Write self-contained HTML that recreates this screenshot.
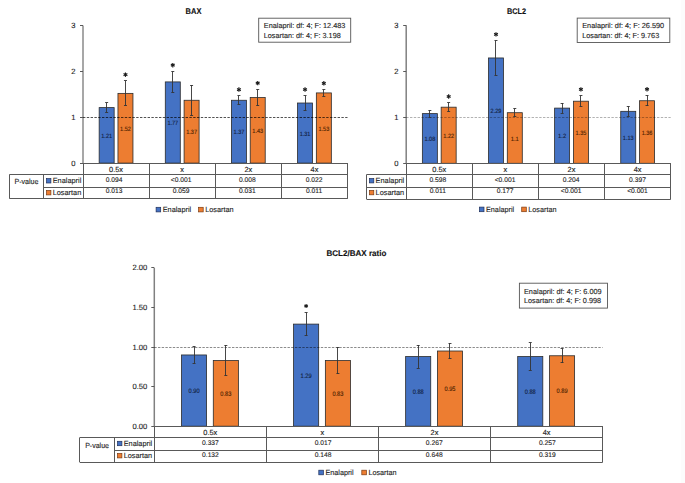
<!DOCTYPE html>
<html><head><meta charset="utf-8"><title>Charts</title>
<style>html,body{margin:0;padding:0;background:#fff;width:685px;height:483px;overflow:hidden}
svg{display:block} text{font-family:"Liberation Sans", sans-serif;text-rendering:geometricPrecision}</style></head>
<body>
<svg width="685" height="483" viewBox="0 0 685 483" font-family='"Liberation Sans", sans-serif'>
<rect x="0" y="0" width="685" height="483" fill="#fff"/>
<rect x="681" y="0" width="4" height="483" fill="#fcfcfc"/>
<text x="193.50" y="11.00" font-size="8.2" text-anchor="middle" fill="#111" stroke="#111" stroke-width="0.12" font-weight="bold" textLength="15.8" lengthAdjust="spacingAndGlyphs" dominant-baseline="central">BAX</text>
<line x1="83.00" y1="25.49" x2="83.00" y2="163.10" stroke="#8a8a8a" stroke-width="1.5"/>
<line x1="80.00" y1="163.50" x2="83.00" y2="163.50" stroke="#595959" stroke-width="1"/>
<text x="75.60" y="163.10" font-size="7.6" text-anchor="end" fill="#1e1e1e" stroke="#1e1e1e" stroke-width="0.12" dominant-baseline="central">0</text>
<line x1="80.00" y1="117.50" x2="83.00" y2="117.50" stroke="#595959" stroke-width="1"/>
<text x="75.60" y="117.23" font-size="7.6" text-anchor="end" fill="#1e1e1e" stroke="#1e1e1e" stroke-width="0.12" dominant-baseline="central">1</text>
<line x1="80.00" y1="71.50" x2="83.00" y2="71.50" stroke="#595959" stroke-width="1"/>
<text x="75.60" y="71.36" font-size="7.6" text-anchor="end" fill="#1e1e1e" stroke="#1e1e1e" stroke-width="0.12" dominant-baseline="central">2</text>
<line x1="80.00" y1="25.50" x2="83.00" y2="25.50" stroke="#595959" stroke-width="1"/>
<text x="75.60" y="25.49" font-size="7.6" text-anchor="end" fill="#1e1e1e" stroke="#1e1e1e" stroke-width="0.12" dominant-baseline="central">3</text>
<rect x="99.16" y="107.60" width="15.00" height="55.50" fill="#4472c4" stroke="#2b2b2b" stroke-width="0.8"/>
<rect x="117.96" y="93.38" width="15.00" height="69.72" fill="#ed7d31" stroke="#2b2b2b" stroke-width="0.8"/>
<rect x="165.29" y="81.91" width="15.00" height="81.19" fill="#4472c4" stroke="#2b2b2b" stroke-width="0.8"/>
<rect x="184.09" y="100.26" width="15.00" height="62.84" fill="#ed7d31" stroke="#2b2b2b" stroke-width="0.8"/>
<rect x="231.41" y="100.26" width="15.00" height="62.84" fill="#4472c4" stroke="#2b2b2b" stroke-width="0.8"/>
<rect x="250.21" y="97.51" width="15.00" height="65.59" fill="#ed7d31" stroke="#2b2b2b" stroke-width="0.8"/>
<rect x="297.54" y="103.01" width="15.00" height="60.09" fill="#4472c4" stroke="#2b2b2b" stroke-width="0.8"/>
<rect x="316.34" y="92.92" width="15.00" height="70.18" fill="#ed7d31" stroke="#2b2b2b" stroke-width="0.8"/>
<line x1="83.00" y1="117.50" x2="347.50" y2="117.50" stroke="#000" stroke-width="1" stroke-dasharray="2.4,1.4" stroke-opacity="0.68"/>
<text x="106.66" y="136.55" font-size="6.2" text-anchor="middle" fill="#101c3c" stroke="#101c3c" stroke-width="0.12" textLength="10.8" lengthAdjust="spacingAndGlyphs" dominant-baseline="central">1.21</text>
<line x1="106.50" y1="103.00" x2="106.50" y2="112.20" stroke="#333" stroke-width="0.9"/>
<line x1="105.16" y1="102.50" x2="108.16" y2="102.50" stroke="#333" stroke-width="0.9"/>
<line x1="105.16" y1="112.50" x2="108.16" y2="112.50" stroke="#333" stroke-width="0.9"/>
<text x="125.46" y="129.44" font-size="6.2" text-anchor="middle" fill="#4a1e00" stroke="#4a1e00" stroke-width="0.12" textLength="10.8" lengthAdjust="spacingAndGlyphs" dominant-baseline="central">1.52</text>
<line x1="125.50" y1="80.98" x2="125.50" y2="105.78" stroke="#333" stroke-width="0.9"/>
<line x1="123.96" y1="80.50" x2="126.96" y2="80.50" stroke="#333" stroke-width="0.9"/>
<line x1="123.96" y1="105.50" x2="126.96" y2="105.50" stroke="#333" stroke-width="0.9"/>
<line x1="125.46" y1="72.48" x2="125.46" y2="76.88" stroke="#1a1a1a" stroke-width="1.15"/>
<line x1="123.56" y1="73.58" x2="127.37" y2="75.78" stroke="#1a1a1a" stroke-width="1.15"/>
<line x1="127.37" y1="73.58" x2="123.56" y2="75.78" stroke="#1a1a1a" stroke-width="1.15"/>
<text x="172.79" y="123.71" font-size="6.2" text-anchor="middle" fill="#101c3c" stroke="#101c3c" stroke-width="0.12" textLength="10.8" lengthAdjust="spacingAndGlyphs" dominant-baseline="central">1.77</text>
<line x1="172.50" y1="71.51" x2="172.50" y2="92.31" stroke="#333" stroke-width="0.9"/>
<line x1="171.29" y1="71.50" x2="174.29" y2="71.50" stroke="#333" stroke-width="0.9"/>
<line x1="171.29" y1="92.50" x2="174.29" y2="92.50" stroke="#333" stroke-width="0.9"/>
<line x1="172.79" y1="63.01" x2="172.79" y2="67.41" stroke="#1a1a1a" stroke-width="1.15"/>
<line x1="170.88" y1="64.11" x2="174.69" y2="66.31" stroke="#1a1a1a" stroke-width="1.15"/>
<line x1="174.69" y1="64.11" x2="170.88" y2="66.31" stroke="#1a1a1a" stroke-width="1.15"/>
<text x="191.59" y="132.88" font-size="6.2" text-anchor="middle" fill="#4a1e00" stroke="#4a1e00" stroke-width="0.12" textLength="10.8" lengthAdjust="spacingAndGlyphs" dominant-baseline="central">1.37</text>
<line x1="191.50" y1="85.01" x2="191.50" y2="115.51" stroke="#333" stroke-width="0.9"/>
<line x1="190.09" y1="85.50" x2="193.09" y2="85.50" stroke="#333" stroke-width="0.9"/>
<line x1="190.09" y1="115.50" x2="193.09" y2="115.50" stroke="#333" stroke-width="0.9"/>
<text x="238.91" y="132.88" font-size="6.2" text-anchor="middle" fill="#101c3c" stroke="#101c3c" stroke-width="0.12" textLength="10.8" lengthAdjust="spacingAndGlyphs" dominant-baseline="central">1.37</text>
<line x1="238.50" y1="95.86" x2="238.50" y2="104.66" stroke="#333" stroke-width="0.9"/>
<line x1="237.41" y1="95.50" x2="240.41" y2="95.50" stroke="#333" stroke-width="0.9"/>
<line x1="237.41" y1="104.50" x2="240.41" y2="104.50" stroke="#333" stroke-width="0.9"/>
<line x1="238.91" y1="87.36" x2="238.91" y2="91.76" stroke="#1a1a1a" stroke-width="1.15"/>
<line x1="237.01" y1="88.46" x2="240.82" y2="90.66" stroke="#1a1a1a" stroke-width="1.15"/>
<line x1="240.82" y1="88.46" x2="237.01" y2="90.66" stroke="#1a1a1a" stroke-width="1.15"/>
<text x="257.71" y="131.50" font-size="6.2" text-anchor="middle" fill="#4a1e00" stroke="#4a1e00" stroke-width="0.12" textLength="10.8" lengthAdjust="spacingAndGlyphs" dominant-baseline="central">1.43</text>
<line x1="257.50" y1="89.41" x2="257.50" y2="105.61" stroke="#333" stroke-width="0.9"/>
<line x1="256.21" y1="89.50" x2="259.21" y2="89.50" stroke="#333" stroke-width="0.9"/>
<line x1="256.21" y1="105.50" x2="259.21" y2="105.50" stroke="#333" stroke-width="0.9"/>
<line x1="257.71" y1="80.91" x2="257.71" y2="85.31" stroke="#1a1a1a" stroke-width="1.15"/>
<line x1="255.81" y1="82.01" x2="259.62" y2="84.21" stroke="#1a1a1a" stroke-width="1.15"/>
<line x1="259.62" y1="82.01" x2="255.81" y2="84.21" stroke="#1a1a1a" stroke-width="1.15"/>
<text x="305.04" y="134.26" font-size="6.2" text-anchor="middle" fill="#101c3c" stroke="#101c3c" stroke-width="0.12" textLength="10.8" lengthAdjust="spacingAndGlyphs" dominant-baseline="central">1.31</text>
<line x1="305.50" y1="95.81" x2="305.50" y2="110.21" stroke="#333" stroke-width="0.9"/>
<line x1="303.54" y1="95.50" x2="306.54" y2="95.50" stroke="#333" stroke-width="0.9"/>
<line x1="303.54" y1="110.50" x2="306.54" y2="110.50" stroke="#333" stroke-width="0.9"/>
<line x1="305.04" y1="87.31" x2="305.04" y2="91.71" stroke="#1a1a1a" stroke-width="1.15"/>
<line x1="303.13" y1="88.41" x2="306.94" y2="90.61" stroke="#1a1a1a" stroke-width="1.15"/>
<line x1="306.94" y1="88.41" x2="303.13" y2="90.61" stroke="#1a1a1a" stroke-width="1.15"/>
<text x="323.84" y="129.21" font-size="6.2" text-anchor="middle" fill="#4a1e00" stroke="#4a1e00" stroke-width="0.12" textLength="10.8" lengthAdjust="spacingAndGlyphs" dominant-baseline="central">1.53</text>
<line x1="323.50" y1="89.62" x2="323.50" y2="96.22" stroke="#333" stroke-width="0.9"/>
<line x1="322.34" y1="89.50" x2="325.34" y2="89.50" stroke="#333" stroke-width="0.9"/>
<line x1="322.34" y1="96.50" x2="325.34" y2="96.50" stroke="#333" stroke-width="0.9"/>
<line x1="323.84" y1="81.12" x2="323.84" y2="85.52" stroke="#1a1a1a" stroke-width="1.15"/>
<line x1="321.93" y1="82.22" x2="325.74" y2="84.42" stroke="#1a1a1a" stroke-width="1.15"/>
<line x1="325.74" y1="82.22" x2="321.93" y2="84.42" stroke="#1a1a1a" stroke-width="1.15"/>
<line x1="83.50" y1="163.10" x2="83.50" y2="198.60" stroke="#595959" stroke-width="1"/>
<line x1="149.50" y1="163.10" x2="149.50" y2="198.60" stroke="#595959" stroke-width="1"/>
<line x1="215.50" y1="163.10" x2="215.50" y2="198.60" stroke="#595959" stroke-width="1"/>
<line x1="281.50" y1="163.10" x2="281.50" y2="198.60" stroke="#595959" stroke-width="1"/>
<line x1="347.50" y1="163.10" x2="347.50" y2="198.60" stroke="#595959" stroke-width="1"/>
<line x1="83.00" y1="174.50" x2="347.50" y2="174.50" stroke="#595959" stroke-width="1"/>
<line x1="9.40" y1="174.50" x2="347.50" y2="174.50" stroke="#595959" stroke-width="1"/>
<line x1="43.50" y1="187.50" x2="347.50" y2="187.50" stroke="#595959" stroke-width="1"/>
<line x1="9.40" y1="198.50" x2="347.50" y2="198.50" stroke="#595959" stroke-width="1"/>
<line x1="347.50" y1="163.10" x2="347.50" y2="198.60" stroke="#595959" stroke-width="1"/>
<line x1="83.00" y1="163.50" x2="347.50" y2="163.50" stroke="#595959" stroke-width="1"/>
<line x1="9.50" y1="174.50" x2="9.50" y2="198.60" stroke="#595959" stroke-width="1"/>
<line x1="43.50" y1="174.50" x2="43.50" y2="198.60" stroke="#595959" stroke-width="1"/>
<text x="26.45" y="181.80" font-size="7.4" text-anchor="middle" fill="#1e1e1e" stroke="#1e1e1e" stroke-width="0.12" textLength="24.0" lengthAdjust="spacingAndGlyphs" dominant-baseline="central">P-value</text>
<rect x="46.50" y="178.60" width="4.40" height="4.40" fill="#4472c4" stroke="#1f2f5a" stroke-width="0.7"/>
<text x="52.70" y="180.80" font-size="7.4" text-anchor="start" fill="#1e1e1e" stroke="#1e1e1e" stroke-width="0.12" textLength="28.6" lengthAdjust="spacingAndGlyphs" dominant-baseline="central">Enalapril</text>
<rect x="46.50" y="190.50" width="4.40" height="4.40" fill="#ed7d31" stroke="#7a3a10" stroke-width="0.7"/>
<text x="52.70" y="192.70" font-size="7.4" text-anchor="start" fill="#1e1e1e" stroke="#1e1e1e" stroke-width="0.12" textLength="28.6" lengthAdjust="spacingAndGlyphs" dominant-baseline="central">Losartan</text>
<text x="116.06" y="169.30" font-size="7.4" text-anchor="middle" fill="#1e1e1e" stroke="#1e1e1e" stroke-width="0.12" dominant-baseline="central">0.5x</text>
<text x="114.16" y="180.20" font-size="6.7" text-anchor="middle" fill="#1e1e1e" stroke="#1e1e1e" stroke-width="0.12" dominant-baseline="central">0.094</text>
<text x="114.16" y="191.60" font-size="6.7" text-anchor="middle" fill="#1e1e1e" stroke="#1e1e1e" stroke-width="0.12" dominant-baseline="central">0.013</text>
<text x="182.19" y="169.30" font-size="7.4" text-anchor="middle" fill="#1e1e1e" stroke="#1e1e1e" stroke-width="0.12" dominant-baseline="central">x</text>
<text x="181.09" y="180.20" font-size="6.7" text-anchor="middle" fill="#1e1e1e" stroke="#1e1e1e" stroke-width="0.12" dominant-baseline="central">&lt;0.001</text>
<text x="181.09" y="191.60" font-size="6.7" text-anchor="middle" fill="#1e1e1e" stroke="#1e1e1e" stroke-width="0.12" dominant-baseline="central">0.059</text>
<text x="248.31" y="169.30" font-size="7.4" text-anchor="middle" fill="#1e1e1e" stroke="#1e1e1e" stroke-width="0.12" dominant-baseline="central">2x</text>
<text x="247.41" y="180.20" font-size="6.7" text-anchor="middle" fill="#1e1e1e" stroke="#1e1e1e" stroke-width="0.12" dominant-baseline="central">0.008</text>
<text x="247.41" y="191.60" font-size="6.7" text-anchor="middle" fill="#1e1e1e" stroke="#1e1e1e" stroke-width="0.12" dominant-baseline="central">0.031</text>
<text x="314.44" y="169.30" font-size="7.4" text-anchor="middle" fill="#1e1e1e" stroke="#1e1e1e" stroke-width="0.12" dominant-baseline="central">4x</text>
<text x="314.09" y="180.20" font-size="6.7" text-anchor="middle" fill="#1e1e1e" stroke="#1e1e1e" stroke-width="0.12" dominant-baseline="central">0.022</text>
<text x="314.09" y="191.60" font-size="6.7" text-anchor="middle" fill="#1e1e1e" stroke="#1e1e1e" stroke-width="0.12" dominant-baseline="central">0.011</text>
<rect x="156.10" y="207.30" width="4.60" height="4.60" fill="#4472c4" stroke="#1f2f5a" stroke-width="0.7"/>
<text x="162.70" y="209.50" font-size="7.4" text-anchor="start" fill="#1e1e1e" stroke="#1e1e1e" stroke-width="0.12" textLength="28.5" lengthAdjust="spacingAndGlyphs" dominant-baseline="central">Enalapril</text>
<rect x="198.60" y="207.30" width="4.60" height="4.60" fill="#ed7d31" stroke="#7a3a10" stroke-width="0.7"/>
<text x="205.20" y="209.50" font-size="7.4" text-anchor="start" fill="#1e1e1e" stroke="#1e1e1e" stroke-width="0.12" textLength="28.5" lengthAdjust="spacingAndGlyphs" dominant-baseline="central">Losartan</text>
<rect x="258.70" y="18.20" width="92.00" height="24.00" fill="#fff" stroke="#555" stroke-width="0.9"/>
<text x="263.80" y="25.40" font-size="7.3" text-anchor="start" fill="#1e1e1e" stroke="#1e1e1e" stroke-width="0.12" textLength="81.6" lengthAdjust="spacingAndGlyphs" dominant-baseline="central">Enalapril: df: 4; F: 12.483</text>
<text x="263.80" y="35.20" font-size="7.3" text-anchor="start" fill="#1e1e1e" stroke="#1e1e1e" stroke-width="0.12" textLength="76.9" lengthAdjust="spacingAndGlyphs" dominant-baseline="central">Losartan: df: 4; F: 3.198</text>
<text x="516.50" y="11.00" font-size="8.2" text-anchor="middle" fill="#111" stroke="#111" stroke-width="0.12" font-weight="bold" textLength="19.2" lengthAdjust="spacingAndGlyphs" dominant-baseline="central">BCL2</text>
<line x1="406.20" y1="25.30" x2="406.20" y2="163.30" stroke="#808080" stroke-width="1.5"/>
<line x1="403.20" y1="163.50" x2="406.20" y2="163.50" stroke="#595959" stroke-width="1"/>
<text x="398.40" y="163.30" font-size="7.6" text-anchor="end" fill="#1e1e1e" stroke="#1e1e1e" stroke-width="0.12" dominant-baseline="central">0</text>
<line x1="403.20" y1="117.50" x2="406.20" y2="117.50" stroke="#595959" stroke-width="1"/>
<text x="398.40" y="117.30" font-size="7.6" text-anchor="end" fill="#1e1e1e" stroke="#1e1e1e" stroke-width="0.12" dominant-baseline="central">1</text>
<line x1="403.20" y1="71.50" x2="406.20" y2="71.50" stroke="#595959" stroke-width="1"/>
<text x="398.40" y="71.30" font-size="7.6" text-anchor="end" fill="#1e1e1e" stroke="#1e1e1e" stroke-width="0.12" dominant-baseline="central">2</text>
<line x1="403.20" y1="25.50" x2="406.20" y2="25.50" stroke="#595959" stroke-width="1"/>
<text x="398.40" y="25.30" font-size="7.6" text-anchor="end" fill="#1e1e1e" stroke="#1e1e1e" stroke-width="0.12" dominant-baseline="central">3</text>
<rect x="422.36" y="113.62" width="15.00" height="49.68" fill="#4472c4" stroke="#2b2b2b" stroke-width="0.8"/>
<rect x="441.16" y="107.18" width="15.00" height="56.12" fill="#ed7d31" stroke="#2b2b2b" stroke-width="0.8"/>
<rect x="488.49" y="57.96" width="15.00" height="105.34" fill="#4472c4" stroke="#2b2b2b" stroke-width="0.8"/>
<rect x="507.29" y="112.70" width="15.00" height="50.60" fill="#ed7d31" stroke="#2b2b2b" stroke-width="0.8"/>
<rect x="554.61" y="108.10" width="15.00" height="55.20" fill="#4472c4" stroke="#2b2b2b" stroke-width="0.8"/>
<rect x="573.41" y="101.20" width="15.00" height="62.10" fill="#ed7d31" stroke="#2b2b2b" stroke-width="0.8"/>
<rect x="620.74" y="111.32" width="15.00" height="51.98" fill="#4472c4" stroke="#2b2b2b" stroke-width="0.8"/>
<rect x="639.54" y="100.74" width="15.00" height="62.56" fill="#ed7d31" stroke="#2b2b2b" stroke-width="0.8"/>
<line x1="406.20" y1="117.50" x2="670.70" y2="117.50" stroke="#000" stroke-width="1" stroke-dasharray="2.4,1.4" stroke-opacity="0.3"/>
<text x="429.86" y="139.66" font-size="6.2" text-anchor="middle" fill="#101c3c" stroke="#101c3c" stroke-width="0.12" textLength="10.8" lengthAdjust="spacingAndGlyphs" dominant-baseline="central">1.08</text>
<line x1="429.50" y1="110.22" x2="429.50" y2="117.02" stroke="#333" stroke-width="0.9"/>
<line x1="428.36" y1="110.50" x2="431.36" y2="110.50" stroke="#333" stroke-width="0.9"/>
<line x1="428.36" y1="117.50" x2="431.36" y2="117.50" stroke="#333" stroke-width="0.9"/>
<text x="448.66" y="136.44" font-size="6.2" text-anchor="middle" fill="#4a1e00" stroke="#4a1e00" stroke-width="0.12" textLength="10.8" lengthAdjust="spacingAndGlyphs" dominant-baseline="central">1.22</text>
<line x1="448.50" y1="102.78" x2="448.50" y2="111.58" stroke="#333" stroke-width="0.9"/>
<line x1="447.16" y1="102.50" x2="450.16" y2="102.50" stroke="#333" stroke-width="0.9"/>
<line x1="447.16" y1="111.50" x2="450.16" y2="111.50" stroke="#333" stroke-width="0.9"/>
<line x1="448.66" y1="94.28" x2="448.66" y2="98.68" stroke="#1a1a1a" stroke-width="1.15"/>
<line x1="446.76" y1="95.38" x2="450.57" y2="97.58" stroke="#1a1a1a" stroke-width="1.15"/>
<line x1="450.57" y1="95.38" x2="446.76" y2="97.58" stroke="#1a1a1a" stroke-width="1.15"/>
<text x="495.99" y="111.83" font-size="6.2" text-anchor="middle" fill="#101c3c" stroke="#101c3c" stroke-width="0.12" textLength="10.8" lengthAdjust="spacingAndGlyphs" dominant-baseline="central">2.29</text>
<line x1="495.50" y1="40.66" x2="495.50" y2="75.26" stroke="#333" stroke-width="0.9"/>
<line x1="494.49" y1="40.50" x2="497.49" y2="40.50" stroke="#333" stroke-width="0.9"/>
<line x1="494.49" y1="75.50" x2="497.49" y2="75.50" stroke="#333" stroke-width="0.9"/>
<line x1="495.99" y1="32.16" x2="495.99" y2="36.56" stroke="#1a1a1a" stroke-width="1.15"/>
<line x1="494.08" y1="33.26" x2="497.89" y2="35.46" stroke="#1a1a1a" stroke-width="1.15"/>
<line x1="497.89" y1="33.26" x2="494.08" y2="35.46" stroke="#1a1a1a" stroke-width="1.15"/>
<text x="514.79" y="139.20" font-size="6.2" text-anchor="middle" fill="#4a1e00" stroke="#4a1e00" stroke-width="0.12" textLength="8.100000000000001" lengthAdjust="spacingAndGlyphs" dominant-baseline="central">1.1</text>
<line x1="514.50" y1="108.60" x2="514.50" y2="116.80" stroke="#333" stroke-width="0.9"/>
<line x1="513.29" y1="108.50" x2="516.29" y2="108.50" stroke="#333" stroke-width="0.9"/>
<line x1="513.29" y1="116.50" x2="516.29" y2="116.50" stroke="#333" stroke-width="0.9"/>
<text x="562.11" y="136.90" font-size="6.2" text-anchor="middle" fill="#101c3c" stroke="#101c3c" stroke-width="0.12" textLength="8.100000000000001" lengthAdjust="spacingAndGlyphs" dominant-baseline="central">1.2</text>
<line x1="562.50" y1="103.10" x2="562.50" y2="113.10" stroke="#333" stroke-width="0.9"/>
<line x1="560.61" y1="103.50" x2="563.61" y2="103.50" stroke="#333" stroke-width="0.9"/>
<line x1="560.61" y1="113.50" x2="563.61" y2="113.50" stroke="#333" stroke-width="0.9"/>
<text x="580.91" y="133.45" font-size="6.2" text-anchor="middle" fill="#4a1e00" stroke="#4a1e00" stroke-width="0.12" textLength="10.8" lengthAdjust="spacingAndGlyphs" dominant-baseline="central">1.35</text>
<line x1="580.50" y1="95.70" x2="580.50" y2="106.70" stroke="#333" stroke-width="0.9"/>
<line x1="579.41" y1="95.50" x2="582.41" y2="95.50" stroke="#333" stroke-width="0.9"/>
<line x1="579.41" y1="106.50" x2="582.41" y2="106.50" stroke="#333" stroke-width="0.9"/>
<line x1="580.91" y1="87.20" x2="580.91" y2="91.60" stroke="#1a1a1a" stroke-width="1.15"/>
<line x1="579.01" y1="88.30" x2="582.82" y2="90.50" stroke="#1a1a1a" stroke-width="1.15"/>
<line x1="582.82" y1="88.30" x2="579.01" y2="90.50" stroke="#1a1a1a" stroke-width="1.15"/>
<text x="628.24" y="138.51" font-size="6.2" text-anchor="middle" fill="#101c3c" stroke="#101c3c" stroke-width="0.12" textLength="10.8" lengthAdjust="spacingAndGlyphs" dominant-baseline="central">1.13</text>
<line x1="628.50" y1="106.47" x2="628.50" y2="116.17" stroke="#333" stroke-width="0.9"/>
<line x1="626.74" y1="106.50" x2="629.74" y2="106.50" stroke="#333" stroke-width="0.9"/>
<line x1="626.74" y1="116.50" x2="629.74" y2="116.50" stroke="#333" stroke-width="0.9"/>
<text x="647.04" y="133.22" font-size="6.2" text-anchor="middle" fill="#4a1e00" stroke="#4a1e00" stroke-width="0.12" textLength="10.8" lengthAdjust="spacingAndGlyphs" dominant-baseline="central">1.36</text>
<line x1="647.50" y1="95.54" x2="647.50" y2="105.94" stroke="#333" stroke-width="0.9"/>
<line x1="645.54" y1="95.50" x2="648.54" y2="95.50" stroke="#333" stroke-width="0.9"/>
<line x1="645.54" y1="105.50" x2="648.54" y2="105.50" stroke="#333" stroke-width="0.9"/>
<line x1="647.04" y1="87.04" x2="647.04" y2="91.44" stroke="#1a1a1a" stroke-width="1.15"/>
<line x1="645.13" y1="88.14" x2="648.94" y2="90.34" stroke="#1a1a1a" stroke-width="1.15"/>
<line x1="648.94" y1="88.14" x2="645.13" y2="90.34" stroke="#1a1a1a" stroke-width="1.15"/>
<line x1="406.50" y1="163.30" x2="406.50" y2="199.20" stroke="#595959" stroke-width="1"/>
<line x1="472.50" y1="163.30" x2="472.50" y2="199.20" stroke="#595959" stroke-width="1"/>
<line x1="538.50" y1="163.30" x2="538.50" y2="199.20" stroke="#595959" stroke-width="1"/>
<line x1="604.50" y1="163.30" x2="604.50" y2="199.20" stroke="#595959" stroke-width="1"/>
<line x1="670.50" y1="163.30" x2="670.50" y2="199.20" stroke="#595959" stroke-width="1"/>
<line x1="406.20" y1="174.50" x2="670.70" y2="174.50" stroke="#595959" stroke-width="1"/>
<line x1="366.60" y1="174.50" x2="670.70" y2="174.50" stroke="#595959" stroke-width="1"/>
<line x1="366.60" y1="187.50" x2="670.70" y2="187.50" stroke="#595959" stroke-width="1"/>
<line x1="366.60" y1="199.50" x2="670.70" y2="199.50" stroke="#595959" stroke-width="1"/>
<line x1="670.50" y1="163.30" x2="670.50" y2="199.20" stroke="#595959" stroke-width="1"/>
<line x1="406.20" y1="163.50" x2="670.70" y2="163.50" stroke="#595959" stroke-width="1"/>
<line x1="366.50" y1="174.50" x2="366.50" y2="199.20" stroke="#595959" stroke-width="1"/>
<rect x="369.40" y="178.50" width="4.40" height="4.40" fill="#4472c4" stroke="#1f2f5a" stroke-width="0.7"/>
<text x="375.60" y="180.70" font-size="7.4" text-anchor="start" fill="#1e1e1e" stroke="#1e1e1e" stroke-width="0.12" textLength="28.6" lengthAdjust="spacingAndGlyphs" dominant-baseline="central">Enalapril</text>
<rect x="369.40" y="190.40" width="4.40" height="4.40" fill="#ed7d31" stroke="#7a3a10" stroke-width="0.7"/>
<text x="375.60" y="192.60" font-size="7.4" text-anchor="start" fill="#1e1e1e" stroke="#1e1e1e" stroke-width="0.12" textLength="28.6" lengthAdjust="spacingAndGlyphs" dominant-baseline="central">Losartan</text>
<text x="439.26" y="169.30" font-size="7.4" text-anchor="middle" fill="#1e1e1e" stroke="#1e1e1e" stroke-width="0.12" dominant-baseline="central">0.5x</text>
<text x="437.76" y="180.20" font-size="6.7" text-anchor="middle" fill="#1e1e1e" stroke="#1e1e1e" stroke-width="0.12" dominant-baseline="central">0.598</text>
<text x="437.76" y="191.60" font-size="6.7" text-anchor="middle" fill="#1e1e1e" stroke="#1e1e1e" stroke-width="0.12" dominant-baseline="central">0.011</text>
<text x="505.39" y="169.30" font-size="7.4" text-anchor="middle" fill="#1e1e1e" stroke="#1e1e1e" stroke-width="0.12" dominant-baseline="central">x</text>
<text x="505.04" y="180.20" font-size="6.7" text-anchor="middle" fill="#1e1e1e" stroke="#1e1e1e" stroke-width="0.12" dominant-baseline="central">&lt;0.001</text>
<text x="505.04" y="191.60" font-size="6.7" text-anchor="middle" fill="#1e1e1e" stroke="#1e1e1e" stroke-width="0.12" dominant-baseline="central">0.177</text>
<text x="571.51" y="169.30" font-size="7.4" text-anchor="middle" fill="#1e1e1e" stroke="#1e1e1e" stroke-width="0.12" dominant-baseline="central">2x</text>
<text x="571.11" y="180.20" font-size="6.7" text-anchor="middle" fill="#1e1e1e" stroke="#1e1e1e" stroke-width="0.12" dominant-baseline="central">0.204</text>
<text x="571.11" y="191.60" font-size="6.7" text-anchor="middle" fill="#1e1e1e" stroke="#1e1e1e" stroke-width="0.12" dominant-baseline="central">&lt;0.001</text>
<text x="637.64" y="169.30" font-size="7.4" text-anchor="middle" fill="#1e1e1e" stroke="#1e1e1e" stroke-width="0.12" dominant-baseline="central">4x</text>
<text x="637.49" y="180.20" font-size="6.7" text-anchor="middle" fill="#1e1e1e" stroke="#1e1e1e" stroke-width="0.12" dominant-baseline="central">0.397</text>
<text x="637.49" y="191.60" font-size="6.7" text-anchor="middle" fill="#1e1e1e" stroke="#1e1e1e" stroke-width="0.12" dominant-baseline="central">&lt;0.001</text>
<rect x="479.40" y="207.10" width="4.60" height="4.60" fill="#4472c4" stroke="#1f2f5a" stroke-width="0.7"/>
<text x="486.00" y="209.30" font-size="7.4" text-anchor="start" fill="#1e1e1e" stroke="#1e1e1e" stroke-width="0.12" textLength="28.2" lengthAdjust="spacingAndGlyphs" dominant-baseline="central">Enalapril</text>
<rect x="521.70" y="207.10" width="4.60" height="4.60" fill="#ed7d31" stroke="#7a3a10" stroke-width="0.7"/>
<text x="528.30" y="209.30" font-size="7.4" text-anchor="start" fill="#1e1e1e" stroke="#1e1e1e" stroke-width="0.12" textLength="28.2" lengthAdjust="spacingAndGlyphs" dominant-baseline="central">Losartan</text>
<rect x="577.20" y="18.10" width="92.60" height="24.40" fill="#fff" stroke="#555" stroke-width="0.9"/>
<text x="582.20" y="25.60" font-size="7.3" text-anchor="start" fill="#1e1e1e" stroke="#1e1e1e" stroke-width="0.12" textLength="82.0" lengthAdjust="spacingAndGlyphs" dominant-baseline="central">Enalapril: df: 4; F: 26.590</text>
<text x="582.20" y="35.10" font-size="7.3" text-anchor="start" fill="#1e1e1e" stroke="#1e1e1e" stroke-width="0.12" textLength="77.0" lengthAdjust="spacingAndGlyphs" dominant-baseline="central">Losartan: df: 4; F: 9.763</text>
<text x="356.40" y="253.10" font-size="8.2" text-anchor="middle" fill="#111" stroke="#111" stroke-width="0.12" font-weight="bold" textLength="60.0" lengthAdjust="spacingAndGlyphs" dominant-baseline="central">BCL2/BAX ratio</text>
<line x1="154.30" y1="267.90" x2="154.30" y2="426.20" stroke="#808080" stroke-width="1.5"/>
<line x1="151.30" y1="426.50" x2="154.30" y2="426.50" stroke="#595959" stroke-width="1"/>
<text x="147.20" y="426.20" font-size="7.6" text-anchor="end" fill="#1e1e1e" stroke="#1e1e1e" stroke-width="0.12" dominant-baseline="central">0.00</text>
<line x1="151.30" y1="386.50" x2="154.30" y2="386.50" stroke="#595959" stroke-width="1"/>
<text x="147.20" y="386.62" font-size="7.6" text-anchor="end" fill="#1e1e1e" stroke="#1e1e1e" stroke-width="0.12" dominant-baseline="central">0.50</text>
<line x1="151.30" y1="347.50" x2="154.30" y2="347.50" stroke="#595959" stroke-width="1"/>
<text x="147.20" y="347.05" font-size="7.6" text-anchor="end" fill="#1e1e1e" stroke="#1e1e1e" stroke-width="0.12" dominant-baseline="central">1.00</text>
<line x1="151.30" y1="307.50" x2="154.30" y2="307.50" stroke="#595959" stroke-width="1"/>
<text x="147.20" y="307.47" font-size="7.6" text-anchor="end" fill="#1e1e1e" stroke="#1e1e1e" stroke-width="0.12" dominant-baseline="central">1.50</text>
<line x1="151.30" y1="267.50" x2="154.30" y2="267.50" stroke="#595959" stroke-width="1"/>
<text x="147.20" y="267.90" font-size="7.6" text-anchor="end" fill="#1e1e1e" stroke="#1e1e1e" stroke-width="0.12" dominant-baseline="central">2.00</text>
<rect x="181.49" y="354.96" width="25.10" height="71.24" fill="#4472c4" stroke="#2b2b2b" stroke-width="0.8"/>
<rect x="213.29" y="360.51" width="25.10" height="65.69" fill="#ed7d31" stroke="#2b2b2b" stroke-width="0.8"/>
<rect x="293.56" y="324.10" width="25.10" height="102.10" fill="#4472c4" stroke="#2b2b2b" stroke-width="0.8"/>
<rect x="325.36" y="360.51" width="25.10" height="65.69" fill="#ed7d31" stroke="#2b2b2b" stroke-width="0.8"/>
<rect x="405.64" y="356.55" width="25.10" height="69.65" fill="#4472c4" stroke="#2b2b2b" stroke-width="0.8"/>
<rect x="437.44" y="351.01" width="25.10" height="75.19" fill="#ed7d31" stroke="#2b2b2b" stroke-width="0.8"/>
<rect x="517.71" y="356.55" width="25.10" height="69.65" fill="#4472c4" stroke="#2b2b2b" stroke-width="0.8"/>
<rect x="549.51" y="355.76" width="25.10" height="70.44" fill="#ed7d31" stroke="#2b2b2b" stroke-width="0.8"/>
<line x1="154.30" y1="347.50" x2="602.60" y2="347.50" stroke="#000" stroke-width="1" stroke-dasharray="2.4,1.3" stroke-opacity="0.45"/>
<text x="194.04" y="391.58" font-size="6.4" text-anchor="middle" fill="#101c3c" stroke="#101c3c" stroke-width="0.12" textLength="11.0" lengthAdjust="spacingAndGlyphs" dominant-baseline="central">0.90</text>
<line x1="194.50" y1="346.66" x2="194.50" y2="363.26" stroke="#333" stroke-width="0.9"/>
<line x1="192.54" y1="346.50" x2="195.54" y2="346.50" stroke="#333" stroke-width="0.9"/>
<line x1="192.54" y1="363.50" x2="195.54" y2="363.50" stroke="#333" stroke-width="0.9"/>
<text x="225.84" y="394.35" font-size="6.4" text-anchor="middle" fill="#4a1e00" stroke="#4a1e00" stroke-width="0.12" textLength="11.0" lengthAdjust="spacingAndGlyphs" dominant-baseline="central">0.83</text>
<line x1="225.50" y1="345.11" x2="225.50" y2="375.91" stroke="#333" stroke-width="0.9"/>
<line x1="224.34" y1="345.50" x2="227.34" y2="345.50" stroke="#333" stroke-width="0.9"/>
<line x1="224.34" y1="375.50" x2="227.34" y2="375.50" stroke="#333" stroke-width="0.9"/>
<text x="306.11" y="376.15" font-size="6.4" text-anchor="middle" fill="#101c3c" stroke="#101c3c" stroke-width="0.12" textLength="11.0" lengthAdjust="spacingAndGlyphs" dominant-baseline="central">1.29</text>
<line x1="306.50" y1="312.60" x2="306.50" y2="335.60" stroke="#333" stroke-width="0.9"/>
<line x1="304.61" y1="312.50" x2="307.61" y2="312.50" stroke="#333" stroke-width="0.9"/>
<line x1="304.61" y1="335.50" x2="307.61" y2="335.50" stroke="#333" stroke-width="0.9"/>
<line x1="306.11" y1="304.00" x2="306.11" y2="308.00" stroke="#1a1a1a" stroke-width="1.1"/>
<line x1="304.38" y1="305.00" x2="307.84" y2="307.00" stroke="#1a1a1a" stroke-width="1.1"/>
<line x1="307.84" y1="305.00" x2="304.38" y2="307.00" stroke="#1a1a1a" stroke-width="1.1"/>
<text x="337.91" y="394.35" font-size="6.4" text-anchor="middle" fill="#4a1e00" stroke="#4a1e00" stroke-width="0.12" textLength="11.0" lengthAdjust="spacingAndGlyphs" dominant-baseline="central">0.83</text>
<line x1="337.50" y1="347.11" x2="337.50" y2="373.91" stroke="#333" stroke-width="0.9"/>
<line x1="336.41" y1="347.50" x2="339.41" y2="347.50" stroke="#333" stroke-width="0.9"/>
<line x1="336.41" y1="373.50" x2="339.41" y2="373.50" stroke="#333" stroke-width="0.9"/>
<text x="418.19" y="392.37" font-size="6.4" text-anchor="middle" fill="#101c3c" stroke="#101c3c" stroke-width="0.12" textLength="11.0" lengthAdjust="spacingAndGlyphs" dominant-baseline="central">0.88</text>
<line x1="418.50" y1="345.05" x2="418.50" y2="368.05" stroke="#333" stroke-width="0.9"/>
<line x1="416.69" y1="345.50" x2="419.69" y2="345.50" stroke="#333" stroke-width="0.9"/>
<line x1="416.69" y1="368.50" x2="419.69" y2="368.50" stroke="#333" stroke-width="0.9"/>
<text x="449.99" y="389.60" font-size="6.4" text-anchor="middle" fill="#4a1e00" stroke="#4a1e00" stroke-width="0.12" textLength="11.0" lengthAdjust="spacingAndGlyphs" dominant-baseline="central">0.95</text>
<line x1="449.50" y1="343.21" x2="449.50" y2="358.81" stroke="#333" stroke-width="0.9"/>
<line x1="448.49" y1="343.50" x2="451.49" y2="343.50" stroke="#333" stroke-width="0.9"/>
<line x1="448.49" y1="358.50" x2="451.49" y2="358.50" stroke="#333" stroke-width="0.9"/>
<text x="530.26" y="392.37" font-size="6.4" text-anchor="middle" fill="#101c3c" stroke="#101c3c" stroke-width="0.12" textLength="11.0" lengthAdjust="spacingAndGlyphs" dominant-baseline="central">0.88</text>
<line x1="530.50" y1="342.95" x2="530.50" y2="370.15" stroke="#333" stroke-width="0.9"/>
<line x1="528.76" y1="342.50" x2="531.76" y2="342.50" stroke="#333" stroke-width="0.9"/>
<line x1="528.76" y1="370.50" x2="531.76" y2="370.50" stroke="#333" stroke-width="0.9"/>
<text x="562.06" y="391.98" font-size="6.4" text-anchor="middle" fill="#4a1e00" stroke="#4a1e00" stroke-width="0.12" textLength="11.0" lengthAdjust="spacingAndGlyphs" dominant-baseline="central">0.89</text>
<line x1="562.50" y1="348.66" x2="562.50" y2="362.86" stroke="#333" stroke-width="0.9"/>
<line x1="560.56" y1="348.50" x2="563.56" y2="348.50" stroke="#333" stroke-width="0.9"/>
<line x1="560.56" y1="362.50" x2="563.56" y2="362.50" stroke="#333" stroke-width="0.9"/>
<line x1="154.50" y1="426.20" x2="154.50" y2="462.20" stroke="#595959" stroke-width="1"/>
<line x1="266.50" y1="426.20" x2="266.50" y2="462.20" stroke="#595959" stroke-width="1"/>
<line x1="378.50" y1="426.20" x2="378.50" y2="462.20" stroke="#595959" stroke-width="1"/>
<line x1="490.50" y1="426.20" x2="490.50" y2="462.20" stroke="#595959" stroke-width="1"/>
<line x1="602.50" y1="426.20" x2="602.50" y2="462.20" stroke="#595959" stroke-width="1"/>
<line x1="154.30" y1="437.50" x2="602.60" y2="437.50" stroke="#595959" stroke-width="1"/>
<line x1="79.80" y1="437.50" x2="602.60" y2="437.50" stroke="#595959" stroke-width="1"/>
<line x1="114.30" y1="450.50" x2="602.60" y2="450.50" stroke="#595959" stroke-width="1"/>
<line x1="79.80" y1="462.50" x2="602.60" y2="462.50" stroke="#595959" stroke-width="1"/>
<line x1="602.50" y1="426.20" x2="602.50" y2="462.20" stroke="#595959" stroke-width="1"/>
<line x1="154.30" y1="426.50" x2="602.60" y2="426.50" stroke="#595959" stroke-width="1"/>
<line x1="79.50" y1="437.50" x2="79.50" y2="462.20" stroke="#595959" stroke-width="1"/>
<line x1="114.50" y1="437.50" x2="114.50" y2="462.20" stroke="#595959" stroke-width="1"/>
<text x="97.05" y="445.30" font-size="7.4" text-anchor="middle" fill="#1e1e1e" stroke="#1e1e1e" stroke-width="0.12" textLength="23.8" lengthAdjust="spacingAndGlyphs" dominant-baseline="central">P-value</text>
<rect x="117.50" y="441.30" width="4.40" height="4.40" fill="#4472c4" stroke="#1f2f5a" stroke-width="0.7"/>
<text x="123.70" y="443.50" font-size="7.4" text-anchor="start" fill="#1e1e1e" stroke="#1e1e1e" stroke-width="0.12" textLength="28.5" lengthAdjust="spacingAndGlyphs" dominant-baseline="central">Enalapril</text>
<rect x="117.50" y="453.50" width="4.40" height="4.40" fill="#ed7d31" stroke="#7a3a10" stroke-width="0.7"/>
<text x="123.70" y="455.70" font-size="7.4" text-anchor="start" fill="#1e1e1e" stroke="#1e1e1e" stroke-width="0.12" textLength="28.5" lengthAdjust="spacingAndGlyphs" dominant-baseline="central">Losartan</text>
<text x="210.34" y="432.20" font-size="7.4" text-anchor="middle" fill="#1e1e1e" stroke="#1e1e1e" stroke-width="0.12" dominant-baseline="central">0.5x</text>
<text x="210.44" y="443.60" font-size="6.7" text-anchor="middle" fill="#1e1e1e" stroke="#1e1e1e" stroke-width="0.12" dominant-baseline="central">0.337</text>
<text x="210.44" y="455.60" font-size="6.7" text-anchor="middle" fill="#1e1e1e" stroke="#1e1e1e" stroke-width="0.12" dominant-baseline="central">0.132</text>
<text x="322.41" y="432.20" font-size="7.4" text-anchor="middle" fill="#1e1e1e" stroke="#1e1e1e" stroke-width="0.12" dominant-baseline="central">x</text>
<text x="323.01" y="443.60" font-size="6.7" text-anchor="middle" fill="#1e1e1e" stroke="#1e1e1e" stroke-width="0.12" dominant-baseline="central">0.017</text>
<text x="323.01" y="455.60" font-size="6.7" text-anchor="middle" fill="#1e1e1e" stroke="#1e1e1e" stroke-width="0.12" dominant-baseline="central">0.148</text>
<text x="434.49" y="432.20" font-size="7.4" text-anchor="middle" fill="#1e1e1e" stroke="#1e1e1e" stroke-width="0.12" dominant-baseline="central">2x</text>
<text x="434.24" y="443.60" font-size="6.7" text-anchor="middle" fill="#1e1e1e" stroke="#1e1e1e" stroke-width="0.12" dominant-baseline="central">0.267</text>
<text x="434.24" y="455.60" font-size="6.7" text-anchor="middle" fill="#1e1e1e" stroke="#1e1e1e" stroke-width="0.12" dominant-baseline="central">0.648</text>
<text x="546.56" y="432.20" font-size="7.4" text-anchor="middle" fill="#1e1e1e" stroke="#1e1e1e" stroke-width="0.12" dominant-baseline="central">4x</text>
<text x="547.26" y="443.60" font-size="6.7" text-anchor="middle" fill="#1e1e1e" stroke="#1e1e1e" stroke-width="0.12" dominant-baseline="central">0.257</text>
<text x="547.26" y="455.60" font-size="6.7" text-anchor="middle" fill="#1e1e1e" stroke="#1e1e1e" stroke-width="0.12" dominant-baseline="central">0.319</text>
<rect x="318.80" y="470.20" width="4.60" height="4.60" fill="#4472c4" stroke="#1f2f5a" stroke-width="0.7"/>
<text x="325.40" y="472.40" font-size="7.4" text-anchor="start" fill="#1e1e1e" stroke="#1e1e1e" stroke-width="0.12" textLength="28.2" lengthAdjust="spacingAndGlyphs" dominant-baseline="central">Enalapril</text>
<rect x="361.80" y="470.20" width="4.60" height="4.60" fill="#ed7d31" stroke="#7a3a10" stroke-width="0.7"/>
<text x="368.40" y="472.40" font-size="7.4" text-anchor="start" fill="#1e1e1e" stroke="#1e1e1e" stroke-width="0.12" textLength="28.2" lengthAdjust="spacingAndGlyphs" dominant-baseline="central">Losartan</text>
<rect x="519.40" y="283.20" width="88.10" height="24.90" fill="#fff" stroke="#555" stroke-width="0.9"/>
<text x="524.00" y="291.00" font-size="7.3" text-anchor="start" fill="#1e1e1e" stroke="#1e1e1e" stroke-width="0.12" textLength="77.6" lengthAdjust="spacingAndGlyphs" dominant-baseline="central">Enalapril: df: 4; F: 6.009</text>
<text x="524.00" y="300.60" font-size="7.3" text-anchor="start" fill="#1e1e1e" stroke="#1e1e1e" stroke-width="0.12" textLength="77.0" lengthAdjust="spacingAndGlyphs" dominant-baseline="central">Losartan: df: 4; F: 0.998</text>
</svg>
</body></html>
